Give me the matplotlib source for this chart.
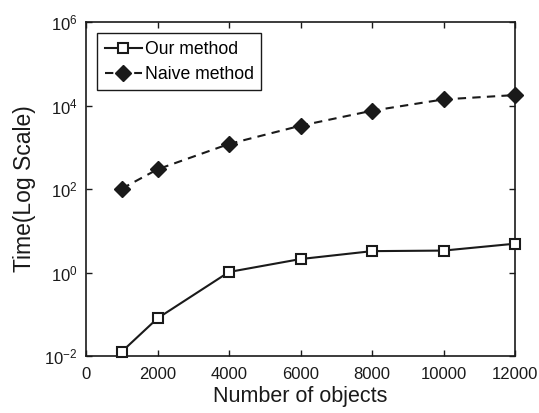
import matplotlib
matplotlib.use("Agg")
import matplotlib.pyplot as plt
from matplotlib.ticker import FixedLocator, NullLocator, LogFormatterSciNotation

plt.rcParams['font.family'] = ['Liberation Sans', 'DejaVu Sans']
plt.rcParams['mathtext.fontset'] = 'custom'
plt.rcParams['mathtext.rm'] = 'Liberation Sans'

x_objects = [1000, 2000, 4000, 6000, 8000, 10000, 12000]
our_method = [0.0127, 0.080, 1.03, 2.1, 3.25, 3.35, 4.9]
naive_method = [102, 296, 1200, 3280, 7500, 14000, 17800]
x_ticks = [0, 2000, 4000, 6000, 8000, 10000, 12000]
y_ticks = [1e-2, 1e0, 1e2, 1e4, 1e6]

fig = plt.figure(figsize=(5.39, 4.13), dpi=100)
ax = fig.add_axes([0.1596, 0.138, 0.7959, 0.8087])

c = '#1a1a1a'
ax.plot(x_objects, our_method, '-', color=c, lw=1.5, marker='s', markersize=7.5,
        markerfacecolor='white', markeredgecolor=c, markeredgewidth=1.5, label='Our method',
        clip_on=False, zorder=3)
ax.plot(x_objects, naive_method, '--', color=c, lw=1.5, marker='D', markersize=8,
        markerfacecolor=c, markeredgecolor=c, dashes=(4, 3), label='Naive method',
        clip_on=False, zorder=3)

ax.set_yscale('log')
ax.set_xlim(0, 12000)
ax.set_ylim(1e-2, 1e6)
ax.xaxis.set_major_locator(FixedLocator(x_ticks))
ax.yaxis.set_major_locator(FixedLocator(y_ticks))
ax.yaxis.set_minor_locator(NullLocator())
ax.yaxis.set_major_formatter(LogFormatterSciNotation())
ax.tick_params(direction='in', top=True, right=True, length=4, width=1, labelsize=12, colors=c)
ax.tick_params(axis='x', pad=8)
ax.tick_params(axis='y', pad=6)
for s in ax.spines.values():
    s.set_linewidth(1.2)
    s.set_color(c)

ax.set_xlabel('Number of objects', fontsize=15.5, color=c, labelpad=3)
ax.set_ylabel('Time(Log Scale)', fontsize=16.5, color=c, labelpad=6)

leg = ax.legend(loc='upper left', fontsize=12.7, frameon=True, fancybox=False,
                edgecolor=c, framealpha=1, handlelength=2.1, handletextpad=0.15,
                borderpad=0.42, labelspacing=0.45, borderaxespad=0.65)
leg.get_frame().set_linewidth(1.0)

fig.savefig('out.png', dpi=100)
